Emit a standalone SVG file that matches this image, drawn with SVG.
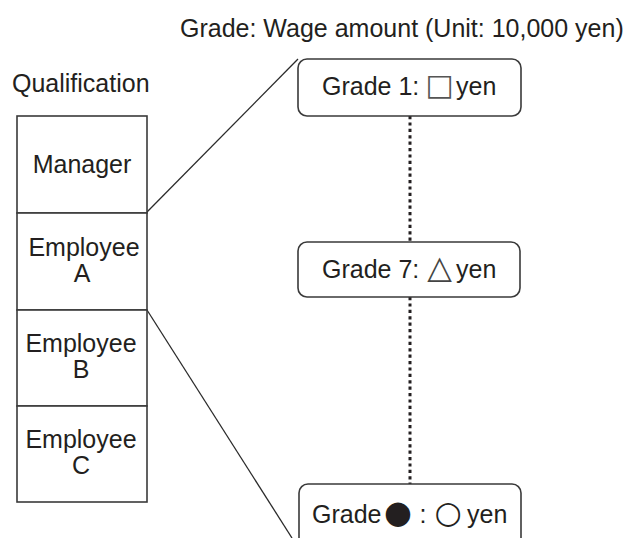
<svg xmlns="http://www.w3.org/2000/svg" width="638" height="538" viewBox="0 0 638 538">
<style>
text{font-family:"Liberation Sans",Arial,sans-serif;font-size:25px;fill:#231f20}
.box{fill:#fff;stroke:#3a3a3a;stroke-width:1.6}
.ln{stroke:#2a2a2a;stroke-width:1.3;fill:none}
.dot{stroke:#231f20;stroke-width:3;stroke-dasharray:3.2 3.2;fill:none}
.sym{font-family:"DejaVu Sans",sans-serif}
</style>
<rect width="638" height="538" fill="#fff"/>
<text x="180" y="37" font-size="25.5">Grade: Wage amount (Unit: 10,000 yen)</text>
<text x="12" y="92">Qualification</text>
<g id="connectors">
<line class="ln" x1="147" y1="212" x2="298" y2="59"/>
<line class="ln" x1="147" y1="310" x2="292" y2="538"/>
<line class="dot" x1="410" y1="116" x2="410" y2="242"/>
<line class="dot" x1="410" y1="297" x2="410" y2="484"/>
</g>
<g id="manager"><rect class="box" x="17" y="116" width="130" height="97"/><text x="82" y="173" text-anchor="middle">Manager</text></g>
<g id="employeeA"><rect class="box" x="17" y="213" width="130" height="97"/><text x="84" y="256" text-anchor="middle">Employee</text><text x="82" y="282" text-anchor="middle">A</text></g>
<g id="employeeB"><rect class="box" x="17" y="310" width="130" height="96"/><text x="81" y="352" text-anchor="middle">Employee</text><text x="81" y="378" text-anchor="middle">B</text></g>
<g id="employeeC"><rect class="box" x="17" y="406" width="130" height="96"/><text x="81" y="448" text-anchor="middle">Employee</text><text x="81" y="474" text-anchor="middle">C</text></g>
<g id="grade1"><rect class="box" x="298" y="59" width="223" height="57" rx="9"/><text x="322" y="95">Grade 1:<tspan x="439.5" text-anchor="middle" class="sym" font-size="30" fill="#555">□</tspan><tspan x="456">yen</tspan></text></g>
<g id="grade7"><rect class="box" x="298" y="242" width="222" height="55" rx="9"/><text x="322" y="278">Grade 7:<tspan x="439.5" text-anchor="middle" class="sym" font-size="32" fill="#444">△</tspan><tspan x="456">yen</tspan></text></g>
<g id="gradeN"><rect class="box" x="299" y="484" width="222" height="70" rx="9"/><text x="312" y="523">Grade<tspan x="398" text-anchor="middle" class="sym" font-size="32">●</tspan><tspan x="423" text-anchor="middle">:</tspan><tspan x="448" text-anchor="middle" class="sym" font-size="31">○</tspan><tspan x="467">yen</tspan></text></g>
</svg>
